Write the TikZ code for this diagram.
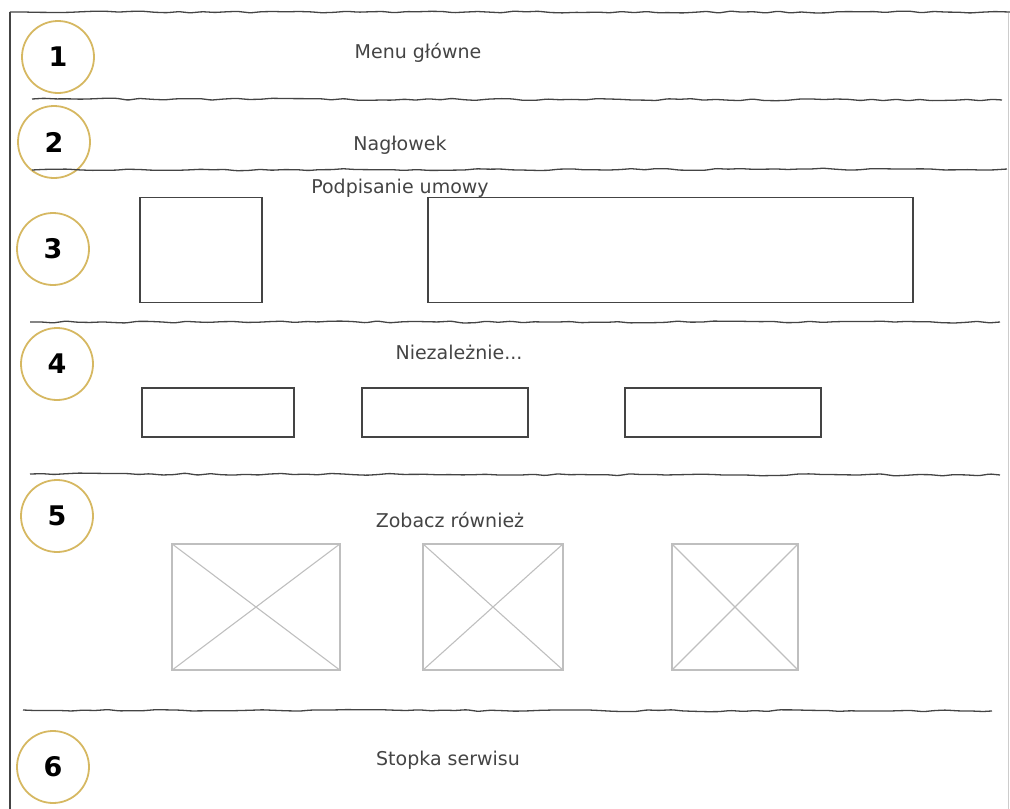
\documentclass[tikz,border=0pt]{standalone}
\usepackage{fontspec}
\setmainfont{DejaVu Sans}
\usepackage{tikz}
\usetikzlibrary{positioning,decorations.pathmorphing}
\definecolor{ring}{RGB}{214,184,98}
\definecolor{ink}{RGB}{68,68,68}
\pgfmathsetseed{11}

\begin{document}
\begin{tikzpicture}[x=1pt,y=-1pt,every node/.style={font=\fontsize{19}{21}\selectfont,text=ink},divider/.style={draw=ink,line width=1.3pt,rounded corners=1.5pt,decorate,decoration={random steps,segment length=12pt,amplitude=1pt}},num/.style={circle,draw=ring,line width=1.8pt,minimum size=72pt,inner sep=0pt,text=black,font=\fontsize{27}{29}\selectfont\bfseries},box/.style={draw=ink,line width=1.3pt,inner sep=0pt},img/.style={draw=black!25,line width=1.1pt,inner sep=0pt}]
\useasboundingbox (0,0) rectangle (1010,809);
\foreach \n/\x/\y in {1/58/57,2/54/142,3/53/249,4/57/364,5/57/516,6/53/767} \node[num] (c\n) at (\x,\y) {\n};
\draw[divider] (10,12)--(1010,12);\draw[draw=ink,line width=1.3pt] (10,12)--(10,809);\draw[black!20,line width=1pt] (1008,13)--(1008,809);
\draw[divider] (32,99)--(1002,100);\draw[divider] (32,170)--(1007,169);\draw[divider] (30,322)--(1000,322);
\draw[divider] (30,474)--(1000,475);\draw[divider] (23,710)--(992,711);
\node (menu) at (418,53) {Menu główne};
\node (head) at (400,145) {Nagłowek};
\node (sign) at (400,188) {Podpisanie umowy};
\node[box,minimum width=122pt,minimum height=105pt] (logo) at (201,250) {};
\node[box,minimum width=485pt,minimum height=105pt] (form) at (670.5,250) {};
\node (indep) at (459,352) {Niezależnie...};
\foreach \i/\x/\w in {1/218/152,2/445/166,3/723/196} \node[box,minimum width=\w pt,minimum height=49pt] (opt\i) at (\x,412.5) {};
\node (also) at (450,520) {Zobacz również};
\foreach \i/\x/\w in {1/256/168,2/493/140,3/735/126}{\node[img,minimum width=\w pt,minimum height=126pt] (see\i) at (\x,607) {};
\draw[img] (see\i.north west)--(see\i.south east) (see\i.north east)--(see\i.south west);}
\node (foot) at (448,760) {Stopka serwisu};
\end{tikzpicture}
\end{document}
